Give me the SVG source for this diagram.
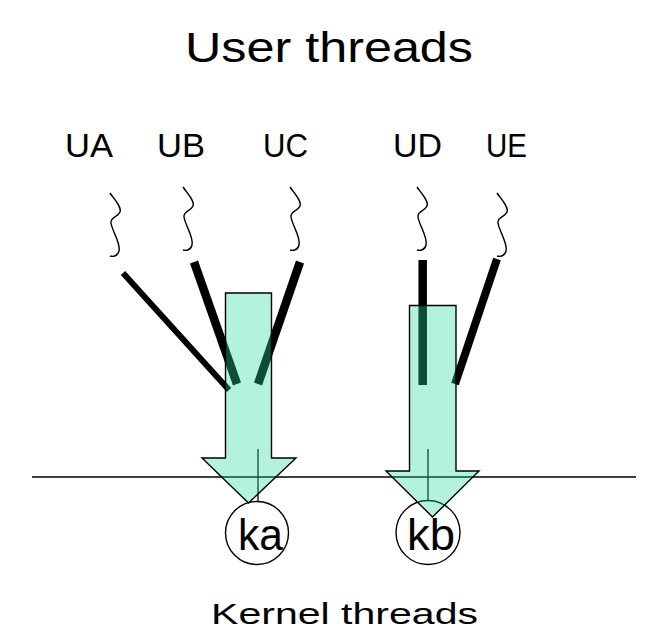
<svg xmlns="http://www.w3.org/2000/svg" xmlns:xlink="http://www.w3.org/1999/xlink" width="650" height="632" viewBox="0 0 650 632">
<style>
text{font-family:"Liberation Sans",Arial,sans-serif;fill:#000}
.sq{fill:none;stroke:#000;stroke-width:1.4}
.th{stroke:#000;stroke-linecap:butt}
.arrow{fill:#26da9e;fill-opacity:0.35;stroke:#000;stroke-width:1.4}
.kc{fill:#fff;stroke:#000;stroke-width:1.4}
.thin{stroke:#000;stroke-width:1.3}
</style>
<defs>
<path id="squig" d="M0,0 C4,6 12,14 10,19 C8,24 0,24 1,30 C2,38 11,50 9,58 C8,63 3,64 0,63"/>
</defs>
<text x="185" y="62" font-size="42" textLength="288" lengthAdjust="spacingAndGlyphs">User threads</text>
<text x="211" y="624" font-size="29" textLength="267" lengthAdjust="spacingAndGlyphs">Kernel threads</text>
<line x1="32" y1="477" x2="636" y2="477" stroke="#000" stroke-width="1.4"/>
<g id="UA"><text x="65" y="157" font-size="32.5" textLength="48" lengthAdjust="spacingAndGlyphs">UA</text><use xlink:href="#squig" class="sq" transform="translate(110,193)"/></g>
<g id="UB"><text x="157" y="157" font-size="32.5" textLength="48" lengthAdjust="spacingAndGlyphs">UB</text><use xlink:href="#squig" class="sq" transform="translate(183,187)"/></g>
<g id="UC"><text x="263" y="157" font-size="32.5" textLength="45" lengthAdjust="spacingAndGlyphs">UC</text><use xlink:href="#squig" class="sq" transform="translate(290,187)"/></g>
<g id="UD"><text x="393" y="157" font-size="32.5" textLength="49" lengthAdjust="spacingAndGlyphs">UD</text><use xlink:href="#squig" class="sq" transform="translate(417,187)"/></g>
<g id="UE"><text x="486" y="157" font-size="32.5" textLength="41" lengthAdjust="spacingAndGlyphs">UE</text><use xlink:href="#squig" class="sq" transform="translate(497,193)"/></g>
<g id="connectors">
<line class="th" x1="123" y1="273" x2="229" y2="390" stroke-width="6"/>
<line class="th" x1="194" y1="262" x2="237" y2="384" stroke-width="8.5"/>
<line class="th" x1="300" y1="262" x2="258" y2="384" stroke-width="8.5"/>
<line class="th" x1="422.7" y1="260" x2="422.7" y2="385" stroke-width="8.5"/>
<line class="th" x1="497" y1="259" x2="455" y2="384" stroke-width="8"/>
<line class="thin" x1="258" y1="449" x2="258" y2="501"/>
<line class="thin" x1="428" y1="449" x2="428" y2="501"/>
</g>
<g id="ka"><circle class="kc" cx="257" cy="533" r="31.5"/><text x="238" y="550" font-size="44" textLength="45" lengthAdjust="spacingAndGlyphs">ka</text></g>
<g id="kb"><circle class="kc" cx="428" cy="532.5" r="32"/><text x="407" y="550" font-size="44" textLength="48" lengthAdjust="spacingAndGlyphs">kb</text></g>
<g id="arrow-ka"><polygon class="arrow" points="225.5,293 271.5,293 271.5,458 296,458 248.5,503 202,458 225.5,458"/></g>
<g id="arrow-kb"><polygon class="arrow" points="409.5,305.5 456,305.5 456,471 479,471 432.5,517 386,471 409.5,471"/></g>
</svg>
